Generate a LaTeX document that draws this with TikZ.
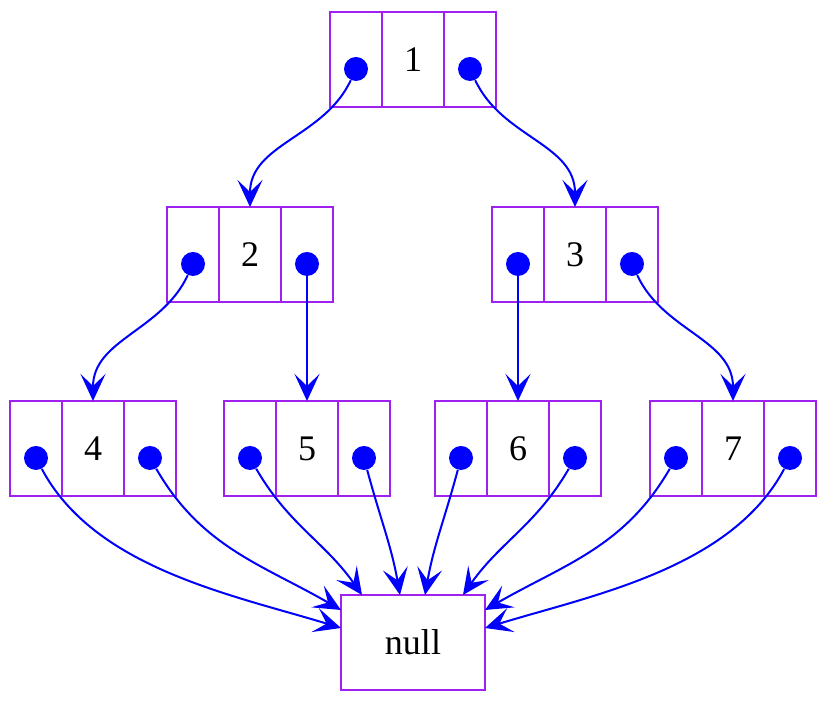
\documentclass[tikz,border=0pt]{standalone}
\usepackage{fontspec}
\setmainfont{Liberation Serif}
\usetikzlibrary{arrows.meta,positioning}
\definecolor{recpurple}{RGB}{160,32,240}
\definecolor{ptrblue}{RGB}{0,0,255}

\begin{document}
\begin{tikzpicture}[x=0.5pt,y=-0.5pt,
    >={Stealth[length=13.5pt,width=12.5pt,inset=6pt]},
    every edge/.style={draw=ptrblue,line width=1pt}]
    \tikzset{cell/.style={draw=recpurple,line width=1pt,rectangle,outer sep=0pt,
        minimum height=47.5pt,inner sep=0pt,font=\fontsize{18}{21}\selectfont},
      key/.style={cell,minimum width=31pt},
      side/.style={cell,minimum width=26pt},
      dot/.style={circle,fill=ptrblue,inner sep=0pt,minimum size=12pt}}
    \useasboundingbox (0,0) rectangle (826,704);
    % middle cells
    \node[key] (n1) at (413,59.5) {1};
    \node[key,on grid] (n2) [below left = 97.5pt and 81.5pt of n1] {2};
    \node[key,on grid] (n3) [below right = 97.5pt and 81pt of n1] {3};
    \node[key,on grid] (n4) [below left = 97pt and 78.5pt of n2] {4};
    \node[key,on grid] (n5) [below right = 97pt and 28.5pt of n2] {5};
    \node[key,on grid] (n6) [below left = 97pt and 28.5pt of n3] {6};
    \node[key,on grid] (n7) [below right = 97pt and 79pt of n3] {7};
    \node[cell,minimum width=72pt,on grid] (null) [below = 291.5pt of n1] {null};
    % side cells and pointers
    \foreach \n in {n1,n2,n3,n4,n5,n6,n7}{
      \node[side,left=0pt of \n] (\n l) {};
      \node[side,right=0pt of \n] (\n r) {};
      \node[dot] (\n pl) at ([yshift=-4.75pt]\n l.center) {};
      \node[dot] (\n pr) at ([yshift=-4.75pt]\n r.center) {};
    }
    \coordinate (nw1) at ([yshift=16.25pt]null.west);
    \coordinate (nw2) at ([yshift=7.25pt]null.west);
    \coordinate (ne1) at ([yshift=16.25pt]null.east);
    \coordinate (ne2) at ([yshift=7.25pt]null.east);
    \coordinate (nn1) at ([xshift=-25.5pt]null.north);
    \coordinate (nn2) at ([xshift=-6.5pt]null.north);
    \coordinate (nn3) at ([xshift=6pt]null.north);
    \coordinate (nn4) at ([xshift=25pt]null.north);
    \path[->]
    (n1pl)
    edge [out=-115,in=90] (n2.north)
    (n1pr)
    edge [out=-65,in=90] (n3.north)
    (n2pl)
    edge [out=-115,in=90] (n4.north)
    (n2pr)
    edge [] (n5.north)
    (n3pl)
    edge [] (n6.north)
    (n3pr)
    edge [out=-65,in=90] (n7.north)
    (n4pl)
    edge [out=-62,in=163,looseness=0.85] (nw2)
    (n4pr)
    edge [out=-60,in=150] (nw1)
    (n5pl)
    edge [out=-60,in=125] (nn1)
    (n5pr)
    edge [out=-75,in=100] (nn2)
    (n6pl)
    edge [out=-105,in=80] (nn3)
    (n6pr)
    edge [out=-120,in=55] (nn4)
    (n7pl)
    edge [out=-120,in=30] (ne1)
    (n7pr)
    edge [out=-118,in=17,looseness=0.85] (ne2)
    ;
\end{tikzpicture}
\end{document}
